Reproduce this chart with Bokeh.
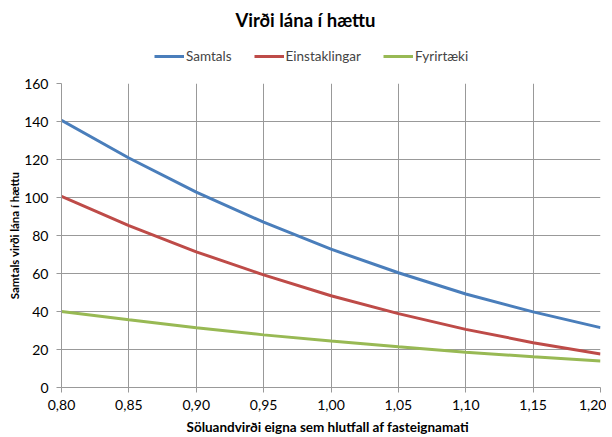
from bokeh.plotting import figure
from bokeh.layouts import column
from bokeh.models import (FixedTicker, CustomJSTickFormatter, Legend, LegendItem, Range1d, Label)
from bokeh.embed import file_html
from bokeh.resources import INLINE

# Data
x_vals = [0.80, 0.85, 0.90, 0.95, 1.00, 1.05, 1.10, 1.15, 1.20]
samtals = [140.6, 120.8, 102.8, 87.0, 72.8, 60.4, 49.2, 39.8, 31.5]
einstaklingar = [100.6, 85.2, 71.4, 59.3, 48.3, 38.9, 30.6, 23.6, 17.6]
fyrirtaeki = [40.0, 35.6, 31.4, 27.7, 24.5, 21.5, 18.6, 16.2, 13.9]
series_names = ["Samtals", "Einstaklingar", "Fyrirtæki"]
y_ticks = [0, 20, 40, 60, 80, 100, 120, 140, 160]

title_text = "Virði lána í hættu"
x_label = "Söluandvirði  eigna sem hlutfall  af fasteignamati"
y_label = "Samtals virði lána í hættu"

FONT = "Lato"
colors = ["#4A7EBB", "#BE4B48", "#98B954"]
GRID = "#999999"

W = 606
HEADER_H = 76
series = [samtals, einstaklingar, fyrirtaeki]

# ---- header (title + legend) ----
hdr = figure(width=W, height=HEADER_H, output_backend="svg", toolbar_location=None,
             x_axis_location=None, y_axis_location=None,
             x_range=Range1d(0, W), y_range=Range1d(0, HEADER_H),
             min_border=0, min_border_left=0, min_border_right=0,
             min_border_top=0, min_border_bottom=0)
hdr.grid.visible = False
hdr.outline_line_color = None
hdr.background_fill_color = "white"
hdr.border_fill_color = "white"

# single-point proxies (out of the header's visible range) used only for legend swatches
dummy = [hdr.line(x=[x_vals[0]], y=[ys[0] + 1000], line_color=c, line_width=3)
         for ys, c in zip(series, colors)]
legend = Legend(items=[LegendItem(label=n, renderers=[r]) for n, r in zip(series_names, dummy)],
                orientation="horizontal", location=(93, 12),
                label_text_font=FONT, label_text_font_size="13.5px",
                glyph_width=30, glyph_height=12, spacing=22, label_standoff=2,
                border_line_color=None, background_fill_alpha=0,
                padding=2, margin=0)
hdr.add_layout(legend, "center")
hdr.add_layout(Label(x=244, y=57, x_units="screen", y_units="screen", text=title_text,
                     text_align="center", text_baseline="middle", text_font=FONT,
                     text_font_size="18.5px", text_font_style="bold", text_color="black"))

# ---- main plot ----
p = figure(width=W, height=361, output_backend="svg", toolbar_location=None,
           x_range=Range1d(0.80, 1.20), y_range=Range1d(0, 160),
           min_border_left=61, min_border_right=6, min_border_bottom=47, min_border_top=7)
p.outline_line_color = None
p.background_fill_color = "white"
p.border_fill_color = "white"

for ys, c in zip(series, colors):
    p.line(x_vals, ys, line_color=c, line_width=3)

p.xaxis.ticker = FixedTicker(ticks=x_vals)
p.yaxis.ticker = FixedTicker(ticks=y_ticks)
p.xaxis.formatter = CustomJSTickFormatter(code="return tick.toFixed(2).replace('.', ',');")
for ax in (p.xaxis[0], p.yaxis[0]):
    ax.axis_line_color = GRID
    ax.major_tick_line_color = GRID
    ax.major_tick_in = 0
    ax.major_tick_out = 5
    ax.minor_tick_line_color = None
    ax.major_label_text_font = FONT
    ax.major_label_text_font_size = "14px"
    ax.major_label_text_color = "black"
    ax.axis_label_text_font = FONT
    ax.axis_label_text_font_style = "bold"
    ax.axis_label_text_color = "black"
p.xaxis.axis_label = x_label
p.yaxis.axis_label = y_label
p.xaxis.axis_label_text_font_size = "13.5px"
p.yaxis.axis_label_text_font_size = "11.5px"
p.xaxis.major_label_standoff = 7
p.xaxis.axis_label_standoff = 6
p.yaxis.major_label_standoff = 8
p.yaxis.axis_label_standoff = 0

p.xgrid.grid_line_color = GRID
p.ygrid.grid_line_color = GRID

layout = column(hdr, p, spacing=0)
open("out.html", "w").write(file_html(layout, INLINE))
